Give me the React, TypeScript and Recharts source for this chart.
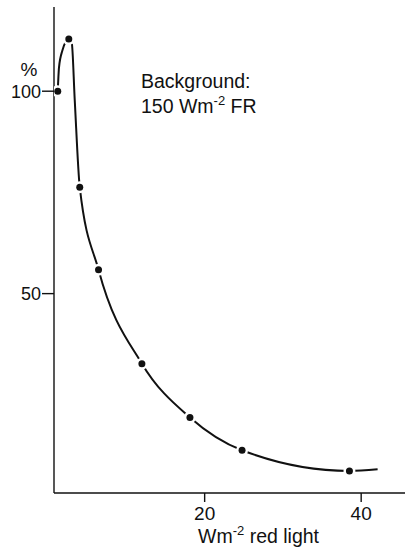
import { ComposedChart, Line, Scatter, XAxis, YAxis } from "recharts";

// measured points (W m-2 red light, % response)
const redLight = [1.23, 2.64, 4.04, 6.44, 11.98, 18.12, 24.78, 38.5];
const response = [100, 112.9, 76.3, 55.9, 32.7, 19.4, 11.3, 6.2];

// hand-drawn fitted curve
const curveX = [1.23, 1.39, 1.83, 2.64, 3.02, 3.4, 4.04, 6.44, 11.98, 18.12, 24.78, 38.5, 42.1];
const curveY = [100, 105.9, 110.1, 112.9, 111.9, 97.8, 76.3, 55.9, 32.7, 19.4, 11.3, 6.2, 6.6];

const xTicks = [20, 40];
const yTicks = [50, 100];

const INK = "#111";
const FONT = "Liberation Sans, Arial, sans-serif";

const points = redLight.map((x, i) => ({ x, y: response[i] }));
const curve = curveX.map((x, i) => ({ x, y: curveY[i] }));

function HaloDot(props: any) {
  const { cx, cy } = props;
  if (cx == null || cy == null) return null;
  return (
    <g>
      <circle cx={cx} cy={cy} r={6} fill="#fff" />
      <circle cx={cx} cy={cy} r={3.5} fill={INK} />
    </g>
  );
}

export default function App() {
  return (
    <div style={{ position: "absolute", left: 0, top: 0, width: 405, height: 558, background: "#fff" }}>
      <ComposedChart
        width={405}
        height={558}
        data={curve}
        margin={{ top: 7, right: 0, bottom: 0, left: 0 }}
      >
        <XAxis
          type="number"
          dataKey="x"
          domain={[0.75, 45.6]}
          ticks={xTicks}
          allowDataOverflow
          height={65}
          tickSize={9}
          tickMargin={5}
          axisLine={{ stroke: INK, strokeWidth: 1.4 }}
          tickLine={{ stroke: INK, strokeWidth: 1.4 }}
          tick={{ fill: INK, fontFamily: FONT, fontSize: 19 }}
        />
        <YAxis
          type="number"
          dataKey="y"
          domain={[0.75, 120.8]}
          ticks={yTicks}
          allowDataOverflow
          width={54}
          tickSize={12}
          tickMargin={1}
          axisLine={{ stroke: INK, strokeWidth: 1.4 }}
          tickLine={{ stroke: INK, strokeWidth: 1.4 }}
          tick={{ fill: INK, fontFamily: FONT, fontSize: 18 }}
        />
        <Line
          type="monotone"
          dataKey="y"
          stroke={INK}
          strokeWidth={2}
          dot={false}
          activeDot={false}
          isAnimationActive={false}
        />
        <Scatter data={points} shape={HaloDot} isAnimationActive={false} />
      </ComposedChart>
      <svg
        width={405}
        height={558}
        style={{ position: "absolute", left: 0, top: 0, pointerEvents: "none" }}
        fontFamily={FONT}
        fill={INK}
      >
        <text x={29} y={76} fontSize={19} textAnchor="middle">%</text>
        <text x={141} y={88} fontSize={19.5}>Background:</text>
        <text x={141} y={113} fontSize={19.5}>
          150 Wm<tspan dy={-8} fontSize={13}>-2</tspan>
          <tspan dy={8}> FR</tspan>
        </text>
        <text x={198} y={543} fontSize={19.5}>
          Wm<tspan dy={-8} fontSize={13}>-2</tspan>
          <tspan dy={8}> red light</tspan>
        </text>
      </svg>
    </div>
  );
}
